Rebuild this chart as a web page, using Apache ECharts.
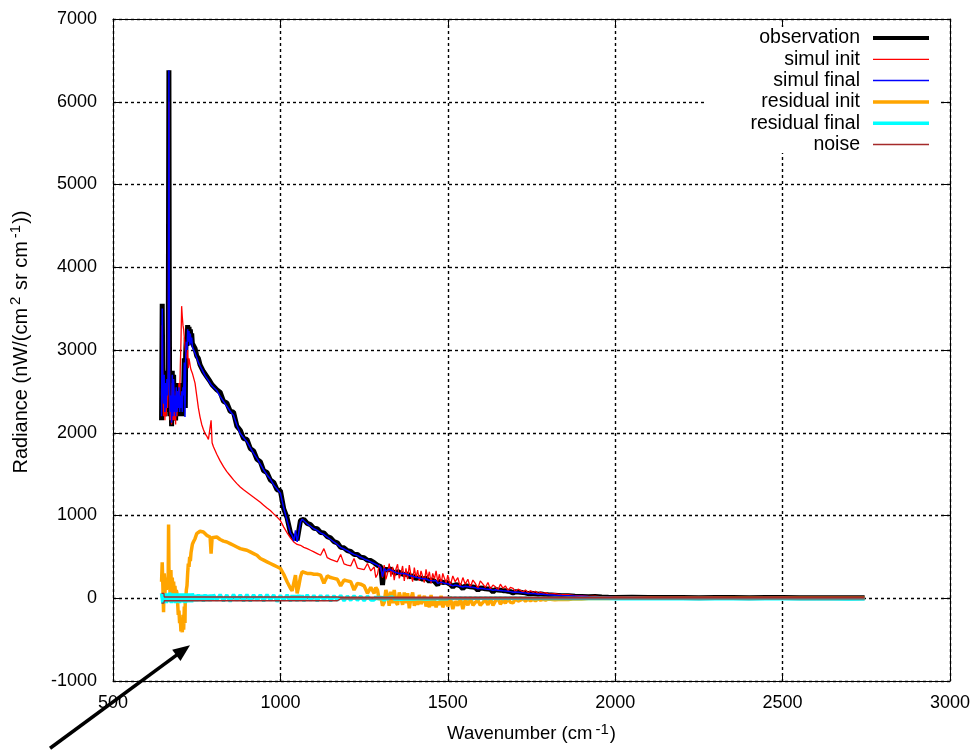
<!DOCTYPE html>
<html><head><meta charset="utf-8">
<script src="https://cdn.jsdelivr.net/npm/echarts@6/dist/echarts.min.js"></script>
<style>html,body{margin:0;padding:0;background:#fff}#c{width:979px;height:751px}</style>
</head><body><div id="c"></div><script>
// ---- data ----
const wavenumber = [
 645,647,649,651,653,655,657,659,661,663,
 665,666,667,668,669,671,673,675,677,679,
 681,683,685,687,689,691,693,695,697,699,
 701,703,705,707,709,711,713,715,716,717,
 719,721,723,725,727,729,731,733,735,737,
 740,745,750,755,760,765,770,775,780,785,
 790,793,796,800,810,820,830,840,850,860,
 870,880,890,900,910,920,930,940,950,960,
 970,980,990,1000,1010,1020,1030,1035,1040,1045,
 1050,1055,1060,1065,1070,1080,1090,1100,1110,1120,
 1130,1140,1150,1160,1170,1180,1190,1200,1210,1220,
 1230,1240,1250,1260,1270,
 1280,1285,1290,1295,1300,1305,1310,1315,1320,1325,
 1330,1335,1340,1345,1350,1355,1360,1365,1370,1375,
 1380,1385,1390,1395,1400,1405,1410,1415,1420,1425,
 1430,1435,1440,1445,1450,1455,1460,1465,1470,1475,
 1480,1485,1490,1495,1500,1507,1515,1522,1530,1537,
 1545,1552,1560,1567,1575,1582,1590,1597,1605,1612,
 1620,1627,1635,1642,1650,1657,1665,1672,1680,1687,
 1695,1702,1710,1717,1725,1732,1740,1747,1755,1762,
 1770,1777,1785,1792,1800,1820,1840,1860,1880,1900,
 1920,1940,1960,1980,2000,2050,2100,2150,2200,2250,
 2300,2350,2400,2450,2500,2550,2600,2650,2700,2745
];
const observation = [
 2150,3560,2600,2300,2750,2200,2650,2250,2700,2400,
 2800,4800,6380,4000,2600,2200,2500,2080,2750,2150,
 2700,2200,2500,2150,2600,2200,2550,2250,2600,2200,
 2500,2250,2550,2200,2600,2500,2900,2750,2300,2950,
 3150,3050,3300,3150,3280,3100,3250,3120,3200,3080,
 3080,3020,2930,2900,2820,2820,2740,2740,2680,2680,
 2620,2630,2580,2600,2520,2490,2380,2360,2260,2250,
 2080,2030,1930,1920,1810,1780,1680,1650,1540,1520,
 1430,1400,1310,1300,1080,970,790,770,720,760,
 700,820,940,960,955,905,890,845,840,795,
 790,745,730,685,670,615,610,575,565,530,
 530,495,490,460,455,
 430,410,400,390,380,160,350,340,345,330,
 355,320,330,300,325,310,300,320,285,300,
 295,260,280,270,275,240,260,250,255,230,
 220,245,235,200,225,215,205,220,160,210,
 200,190,180,195,180,170,135,165,160,150,
 115,150,145,140,135,130,95,125,120,115,
 112,108,75,105,100,98,92,90,85,80,
 65,78,75,72,68,65,55,60,58,55,
 48,52,48,45,42,36,30,31,25,22,
 18,20,15,12,10,12,10,8,9,7,
 10,8,6,8,10,7,6,5,6,5
];
const simulInit = [
 2450,3300,2450,2200,2600,2150,2550,2200,2600,2300,
 2600,4500,6000,3800,2450,2150,2400,2100,2600,2150,
 2550,2150,2400,2100,2500,2200,2500,2300,2600,2400,
 2800,3100,3530,3400,3300,3250,3150,3050,3000,2980,
 2950,2900,3000,2780,2900,2850,2800,2760,2740,2720,
 2700,2600,2450,2300,2190,2100,2040,1990,1960,1920,
 1900,2150,1880,1830,1740,1660,1590,1530,1480,1430,
 1385,1345,1310,1280,1250,1220,1190,1160,1125,1090,
 1060,1020,980,940,860,790,730,705,680,660,
 650,645,640,630,615,600,580,560,540,520,
 600,490,470,455,440,530,415,400,390,480,
 365,355,345,420,330,
 380,250,290,400,360,250,400,230,300,420,
 260,380,220,350,410,240,300,390,210,360,
 230,400,280,200,370,250,340,210,330,260,
 190,350,240,320,180,300,230,330,200,290,
 170,300,240,180,280,150,270,200,250,140,
 250,170,230,130,220,180,120,210,170,130,
 190,110,160,140,100,170,120,150,90,130,
 120,80,110,95,75,100,65,90,70,85,
 55,75,60,68,50,55,42,45,32,30,
 22,24,16,15,11,12,10,8,9,7,
 10,8,6,8,10,7,6,5,6,5
];
const simulFinal = [
 2200,3500,2550,2350,2700,2250,2600,2300,2650,2450,
 2750,4800,6380,4000,2550,2250,2450,2120,2700,2200,
 2650,2250,2450,2200,2550,2250,2500,2300,2550,2250,
 2450,2300,2500,2250,2550,2450,2850,2190,2500,2900,
 3100,3000,3250,3100,3230,3060,3200,3080,3150,3040,
 3040,2960,2910,2850,2810,2770,2730,2690,2670,2630,
 2610,2580,2570,2550,2510,2440,2380,2320,2260,2210,
 2090,1990,1940,1890,1820,1750,1690,1620,1550,1490,
 1440,1370,1320,1270,1090,940,790,760,690,820,
 680,800,920,955,940,900,870,840,820,790,
 770,740,710,680,650,615,595,575,550,530,
 515,495,475,460,440,
 420,415,400,380,370,260,360,330,340,350,
 340,330,320,310,315,300,310,300,290,295,
 290,275,275,265,270,255,255,245,250,235,
 230,235,225,215,220,210,205,210,180,200,
 195,185,180,185,175,165,150,160,155,145,
 135,145,140,135,132,128,115,122,118,112,
 110,105,95,102,98,95,90,88,84,80,
 72,76,73,70,66,63,58,58,56,54,
 48,50,47,44,41,36,32,30,26,23,
 20,19,16,14,12,11,10,9,8,8,
 9,7,7,8,9,7,6,6,5,5
];
const residualInit = [
 200,435,150,-170,300,50,250,100,200,150,
 300,890,380,200,150,50,340,15,250,60,
 200,50,150,20,100,60,-50,-200,-150,-300,
 -250,-400,-350,-410,-200,-380,-100,-300,50,-50,
 100,150,300,420,380,500,450,550,600,650,
 680,720,780,800,810,790,800,780,760,760,
 740,540,730,720,740,710,690,680,660,640,
 620,600,590,580,560,540,520,480,460,440,
 420,400,380,360,290,200,120,90,80,280,
 60,150,260,320,320,300,300,290,290,280,
 180,270,250,240,230,150,220,210,200,100,
 180,170,150,60,130,
 60,130,100,-20,20,-90,-50,100,40,-90,
 80,-60,100,-50,-80,70,0,-80,70,-60,
 60,-120,0,70,-90,-10,-80,40,-70,-30,
 30,-100,-10,-110,40,-90,-20,-110,-40,-80,
 30,-110,-60,10,-100,20,-130,-35,-90,10,
 -130,-20,-85,10,-85,-50,-25,-85,-50,-15,
 -80,-2,-85,-35,0,-72,-28,-60,-5,-50,
 -55,-2,-35,-23,-7,-35,-10,-30,-12,-30,
 -7,-23,-12,-23,-8,-19,-12,-14,-7,-8,
 -4,-4,-1,-3,-1,0,0,0,0,0,
 0,0,0,0,0,0,0,0,0,0
];
const residualFinal = [
 60,80,-60,-50,60,-50,50,-60,60,-40,
 60,30,0,-40,70,-50,50,-60,60,-50,
 60,-50,50,-60,60,-40,60,-50,50,-60,
 60,-40,60,-50,50,70,-50,60,-60,50,
 -50,60,-50,60,-40,60,-50,50,-50,60,
 -35,40,-35,45,-30,40,-40,45,-30,40,
 -35,45,-30,45,-25,45,-35,40,-40,45,
 -25,40,-35,45,-35,40,-25,40,-35,45,
 -25,40,-40,35,-25,40,-35,35,-25,35,
 -35,40,-25,35,-35,40,-25,35,-35,35,
 -25,35,-35,30,-25,35,-30,25,-25,30,
 -25,25,-30,25,-20,
 -20,20,-15,20,-15,18,-30,12,-15,10,
 -10,15,-10,12,-10,10,-12,10,-8,10,
 -8,8,-10,6,-8,6,-6,5,-6,5,
 -8,6,-8,6,-7,5,-6,5,-6,4,
 -5,5,-5,4,-5,4,-5,4,-4,3,
 -4,3,-5,4,-4,3,-4,3,-4,3,
 -4,3,-4,3,-4,2,-3,2,-4,2,
 -3,2,-3,2,-3,2,-3,2,-3,1,
 -3,2,-3,1,-3,1,-3,1,-3,0,
 -4,0,-3,-2,-5,-4,-6,-5,-6,-5,
 -7,-6,-5,-6,-7,-6,-7,-6,-8,-7
];
const noiseWn    = [645, 652, 653, 1170, 1180, 2745];
const noiseUpper = [60, 60, 15, 15, 12, 12];
const noiseLower = [-60, -60, -30, -30, -8, -8];

const seriesNames = ['observation','simul init','simul final','residual init','residual final','noise'];
const seriesColors = ['#000000','#ff0000','#0000ff','#ffa500','#00ffff','#a52a2a'];
const seriesWidths = [5, 1.3, 1.5, 3.5, 3.5, 1.3];
const legendWidths = [4, 1.3, 1.5, 3.5, 3.5, 1.3];
const arrowTail = [312, -1813];
const arrowTip = [730, -568];

// ---- chart ----
const chart = echarts.init(document.getElementById('c'), null, {renderer:'canvas'});
const FONT = 'Liberation Sans, Arial, sans-serif';
const pairs = (xs, ys) => xs.map((x, i) => [x, ys[i]]);
const seriesData = [
  pairs(wavenumber, observation), pairs(wavenumber, simulInit), pairs(wavenumber, simulFinal),
  pairs(wavenumber, residualInit), pairs(wavenumber, residualFinal)
];
const series = seriesData.map((d, i) => ({
  name: seriesNames[i], type: 'line', data: d, showSymbol: false, symbol: 'none',
  color: seriesColors[i], lineStyle: {color: seriesColors[i], width: seriesWidths[i]},
  itemStyle: {color: seriesColors[i]}, animation: false, silent: true, z: 2
}));
[noiseUpper, noiseLower].forEach(arr => series.push({
  name: 'noise', type: 'line', data: pairs(noiseWn, arr), showSymbol: false, symbol: 'none',
  color: seriesColors[5], lineStyle: {color: seriesColors[5], width: seriesWidths[5]},
  itemStyle: {color: seriesColors[5]}, animation: false, silent: true, z: 2
}));

const legends = seriesNames.map((n, i) => ({
  show: true, orient: 'horizontal', right: 50, top: 28 + 21.3 * i, padding: 0,
  itemWidth: 56, itemHeight: 16, align: 'right', selectedMode: false,
  textStyle: {fontFamily: FONT, fontSize: 19.5, color: '#000', padding: [0, 8, 0, 0]},
  data: [{name: n, icon: 'path://M0,0H56V' + legendWidths[i] + 'H0Z',
          itemStyle: {color: seriesColors[i], borderWidth: 0}}]
}));

const gridStyle = {show: true, lineStyle: {color: '#000', width: 1.4, type: [3, 3]}};
const axisLine = {show: true, onZero: false, lineStyle: {color: '#000', width: 1}};
const tick = {show: true, inside: true, length: 8, lineStyle: {color: '#000', width: 1}};
const plain = v => String(v);

chart.setOption({
  animation: false,
  backgroundColor: '#fff',
  grid: {left: 113, right: 29, top: 19, bottom: 70, containLabel: false},
  legend: legends,
  xAxis: [
    {type: 'value', min: 500, max: 3000, interval: 500, position: 'bottom',
     axisLine, axisTick: tick, splitLine: gridStyle,
     axisLabel: {fontFamily: FONT, fontSize: 18, color: '#000', margin: 13, formatter: plain},
     name: '{n|Wavenumber (cm}{s|-1}{n|)}', nameLocation: 'middle', nameGap: 41,
     nameTextStyle: {fontFamily: FONT, fontSize: 18.5, color: '#000',
       rich: {n: {fontFamily: FONT, fontSize: 18.5, color: '#000', lineHeight: 24},
              s: {fontFamily: FONT, fontSize: 15, color: '#000', lineHeight: 15, verticalAlign: 'top', padding: [0, 1, 0, 3]}}}},
    {type: 'value', min: 500, max: 3000, interval: 500, position: 'top',
     axisLine, axisTick: tick, splitLine: {show: false}, axisLabel: {show: false}}
  ],
  yAxis: [
    {type: 'value', min: -1000, max: 7000, interval: 1000, position: 'left',
     axisLine, axisTick: tick, splitLine: gridStyle,
     axisLabel: {fontFamily: FONT, fontSize: 18, color: '#000', margin: 16, formatter: plain},
     name: '{n|Radiance (nW/(cm}{s|2}{n| sr cm}{s|-1}{n|))}', nameLocation: 'middle', nameGap: 79, nameRotate: 90,
     nameTextStyle: {fontFamily: FONT, fontSize: 20, color: '#000', padding: [0, 0, 0, 16],
       rich: {n: {fontFamily: FONT, fontSize: 20, color: '#000', lineHeight: 26},
              s: {fontFamily: FONT, fontSize: 15, color: '#000', lineHeight: 15, verticalAlign: 'top', padding: [0, 1, 0, 3]}}}},
    {type: 'value', min: -1000, max: 7000, interval: 1000, position: 'right',
     axisLine, axisTick: tick, splitLine: {show: false}, axisLabel: {show: false}}
  ],
  graphic: [
    {id: 'keybox', type: 'rect', z: 1, silent: true,
     shape: {x: 704, y: 27, width: 237, height: 126}, style: {fill: '#fff'}}
  ],
  series
});

// arrow annotation
const p0 = chart.convertToPixel({gridIndex: 0}, arrowTail);
const p1 = chart.convertToPixel({gridIndex: 0}, arrowTip);
const dx = p1[0] - p0[0], dy = p1[1] - p0[1], L = Math.hypot(dx, dy);
const ux = dx / L, uy = dy / L, hl = 17, hw = 7;
const bx = p1[0] - ux * hl, by = p1[1] - uy * hl;
chart.setOption({graphic: [
  {id: 'arrowLine', type: 'line', z: 10, silent: true,
   shape: {x1: p0[0], y1: p0[1], x2: bx + ux * 2, y2: by + uy * 2},
   style: {stroke: '#000', lineWidth: 3.5}},
  {id: 'arrowHead', type: 'polygon', z: 10, silent: true,
   shape: {points: [[p1[0], p1[1]], [bx - uy * hw, by + ux * hw], [bx + uy * hw, by - ux * hw]]},
   style: {fill: '#000'}}
]});
</script></body></html>
